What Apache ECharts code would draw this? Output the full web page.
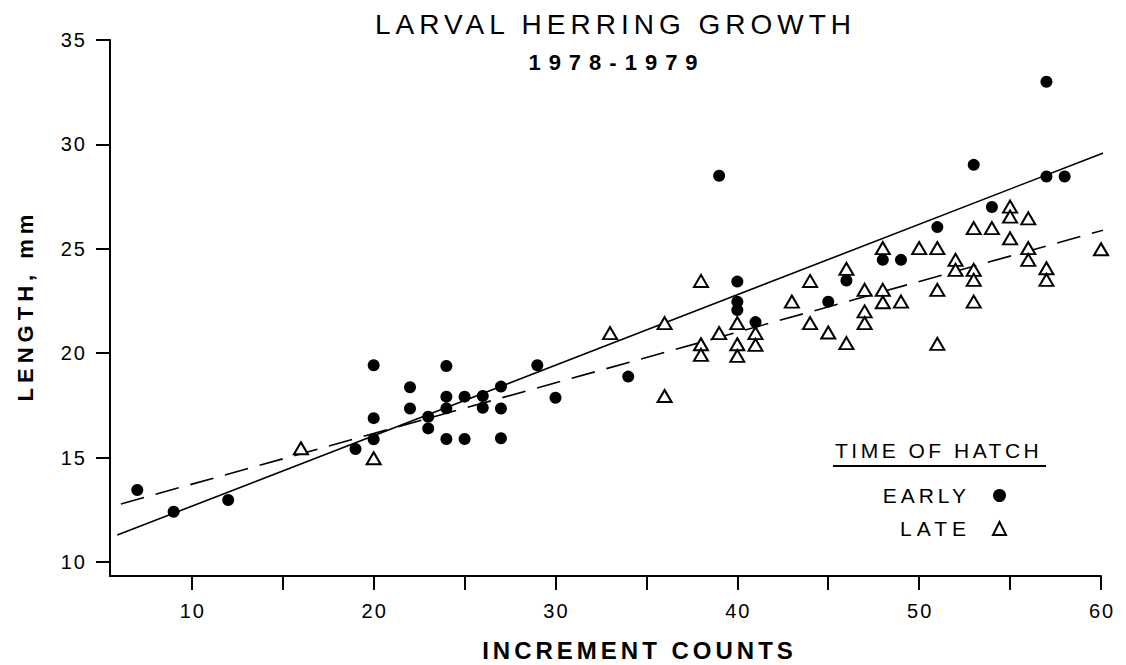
<!DOCTYPE html>
<html><head><meta charset="utf-8">
<script src="https://cdn.jsdelivr.net/npm/echarts@6/dist/echarts.min.js"></script>
<style>html,body{margin:0;padding:0;background:#fff}#chart{width:1126px;height:665px}</style>
</head><body><div id="chart"></div>
<script>
// ---- data ----
const earlyCounts  = [7, 9, 12, 19, 20, 20, 20, 22, 22, 23, 23, 24, 24, 24, 24, 25, 25, 26, 26, 27, 27, 27, 29, 30, 34, 39, 40, 40, 40, 41, 45, 46, 48, 49, 51, 53, 54, 57, 57, 58];
const earlyLengths = [13.45, 12.41, 12.97, 15.41, 19.42, 16.89, 15.88, 18.37, 17.35, 16.96, 16.4, 19.39, 17.92, 17.36, 15.89, 17.92, 15.89, 17.95, 17.39, 18.4, 17.35, 15.93, 19.42, 17.87, 18.88, 28.5, 23.43, 22.47, 22.07, 21.49, 22.47, 23.48, 24.47, 24.47, 26.04, 29.02, 27.0, 33.0, 28.46, 28.46];
const lateCounts  = [16, 20, 33, 36, 36, 38, 38, 38, 39, 40, 40, 40, 41, 41, 43, 44, 44, 45, 46, 46, 47, 47, 47, 48, 48, 48, 49, 50, 51, 51, 51, 52, 52, 53, 53, 53, 53, 54, 55, 55, 55, 56, 56, 56, 57, 57, 60];
const lateLengths = [15.45, 14.97, 20.96, 21.44, 17.95, 23.46, 20.43, 19.92, 20.96, 21.44, 20.43, 19.87, 20.96, 20.4, 22.47, 23.46, 21.44, 20.99, 24.04, 20.48, 23.03, 22.0, 21.44, 25.03, 23.03, 22.44, 22.47, 25.03, 25.03, 23.03, 20.45, 24.47, 23.99, 25.99, 23.99, 23.51, 22.47, 25.99, 27.02, 26.54, 25.5, 26.46, 25.03, 24.47, 24.07, 23.51, 24.98];
const earlyFitCounts  = [5.9, 60.3];
const earlyFitLengths = [11.29, 29.65];
const lateFitCounts   = [6.1, 60.4];
const lateFitLengths  = [12.78, 25.96];
const xTickValues  = [10, 15, 20, 25, 30, 35, 40, 45, 50, 55, 60];
const xLabelValues = [10, 20, 30, 40, 50, 60];
const yTickValues  = [10, 15, 20, 25, 30, 35];
const seriesNames  = ['EARLY', 'LATE'];
const titleText    = 'LARVAL HERRING GROWTH';
const subtitleText = '1978-1979';
const xName        = 'INCREMENT COUNTS';
const yName        = 'LENGTH, mm';
const legendTitle  = 'TIME OF HATCH';

const pairs = (xs, ys) => xs.map((x, i) => [x, ys[i]]);
const FONT = 'Liberation Sans';

const chart = echarts.init(document.getElementById('chart'), null, {renderer: 'svg'});
chart.setOption({
  animation: false,
  backgroundColor: '#fff',
  title: {
    text: titleText, subtext: subtitleText,
    left: 613, top: 10, textAlign: 'center', itemGap: 13, padding: 0,
    textStyle: {fontFamily: FONT, fontSize: 28, fontWeight: 'normal', color: '#000'},
    subtextStyle: {fontFamily: FONT, fontSize: 22, fontWeight: 'bold', color: '#000'}
  },
  grid: {left: 110, right: 25, top: 40, bottom: 89, containLabel: false, outerBoundsMode: 'none'},
  xAxis: {
    type: 'value', min: 5.5, max: 60,
    name: xName, nameLocation: 'middle', nameGap: 62,
    nameTextStyle: {fontFamily: FONT, fontSize: 24, fontWeight: 'bold', color: '#000', padding: [0, 0, 0, 64]},
    axisLine: {show: true, onZero: false, lineStyle: {color: '#000', width: 2}},
    axisTick: {show: true, length: 14, customValues: xTickValues, lineStyle: {color: '#000', width: 2}},
    axisLabel: {customValues: xLabelValues, margin: 25, fontFamily: FONT, fontSize: 20, color: '#000'},
    splitLine: {show: false}
  },
  yAxis: {
    type: 'value', min: 9.33, max: 35,
    name: yName, nameLocation: 'middle', nameGap: 74,
    nameTextStyle: {fontFamily: FONT, fontSize: 22, fontWeight: 'bold', color: '#000'},
    axisLine: {show: true, onZero: false, lineStyle: {color: '#000', width: 2}},
    axisTick: {show: true, length: 14, customValues: yTickValues, lineStyle: {color: '#000', width: 2}},
    axisLabel: {customValues: yTickValues, margin: 25, fontFamily: FONT, fontSize: 20, color: '#000'},
    splitLine: {show: false}
  },
  legend: {
    data: seriesNames, orient: 'vertical', align: 'right',
    right: 119, top: 485, itemWidth: 13, itemHeight: 13, itemGap: 12, padding: 0,
    textStyle: {fontFamily: FONT, fontSize: 21, color: '#000', padding: [0, 22, 0, 0]}
  },
  graphic: [
    {type: 'text', left: 835, top: 440,
     style: {text: legendTitle, fontFamily: FONT, fontSize: 21, fill: '#000'}},
    {type: 'line', shape: {x1: 833, y1: 466, x2: 1046, y2: 466}, style: {stroke: '#000', lineWidth: 2}}
  ],
  series: [
    {name: 'EARLY fit', type: 'line', data: pairs(earlyFitCounts, earlyFitLengths), symbol: 'none',
     silent: true, z: 1, lineStyle: {color: '#000', width: 1.6, type: 'solid', opacity: 1}},
    {name: 'LATE fit', type: 'line', data: pairs(lateFitCounts, lateFitLengths), symbol: 'none',
     silent: true, z: 1, lineStyle: {color: '#000', width: 1.6, type: [24, 12], opacity: 1}},
    {name: seriesNames[0], type: 'scatter', data: pairs(earlyCounts, earlyLengths), z: 3,
     symbol: 'circle', symbolSize: 12, itemStyle: {color: '#000', opacity: 1}},
    {name: seriesNames[1], type: 'scatter', data: pairs(lateCounts, lateLengths), z: 2,
     symbol: 'triangle', symbolSize: [14, 12],
     itemStyle: {color: '#fff', borderColor: '#000', borderWidth: 2, opacity: 1}}
  ]
});

const spacingMap = new Map([[titleText, 5], [subtitleText, 8], [xName, 4], [yName, 5],
  [legendTitle, 3.5], ['EARLY', 4], ['LATE', 5]]);
function applySpacing() {
  document.querySelectorAll('#chart svg text').forEach(t => {
    const txt = t.textContent;
    const s = spacingMap.has(txt) ? spacingMap.get(txt) : (/^\d+$/.test(txt) ? 2 : 0);
    if (!s) return;
    t.setAttribute('letter-spacing', s);
    const anchor = t.getAttribute('text-anchor');
    const dx = anchor === 'middle' ? s / 2 : anchor === 'end' ? s : 0;
    if (dx) t.setAttribute('dx', dx);
  });
}
chart.on('finished', applySpacing);
applySpacing();
setTimeout(applySpacing, 50);
requestAnimationFrame(applySpacing);
</script></body></html>
